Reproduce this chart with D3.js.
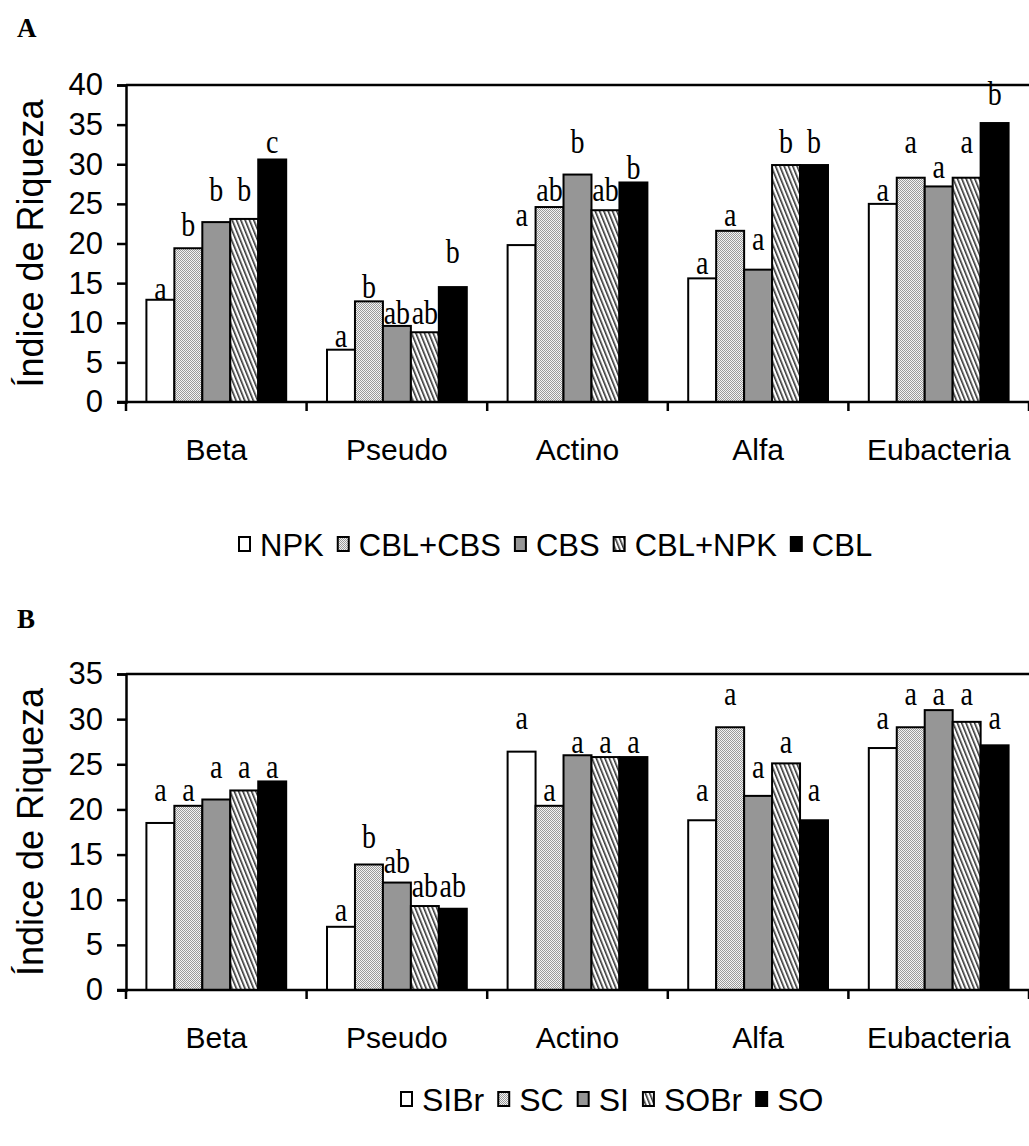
<!DOCTYPE html>
<html>
<head>
<meta charset="utf-8">
<script src="https://cdn.jsdelivr.net/npm/d3@7"></script>
<style>
  html, body { margin: 0; padding: 0; background: #fff; }
  svg { display: block; }
</style>
</head>
<body>
<svg id="chart" width="1029" height="1146"></svg>
<script>
// ---------- data ----------
const categories = ["Beta", "Pseudo", "Actino", "Alfa", "Eubacteria"];

const seriesA = ["NPK", "CBL+CBS", "CBS", "CBL+NPK", "CBL"];
const valuesA = [
  [12.9, 6.6, 19.8, 15.6, 25.0],   // NPK
  [19.4, 12.7, 24.6, 21.6, 28.3],  // CBL+CBS
  [22.7, 9.6, 28.7, 16.7, 27.2],   // CBS
  [23.1, 8.8, 24.2, 29.9, 28.3],   // CBL+NPK
  [30.6, 14.5, 27.7, 29.9, 35.2]   // CBL
];
const lettersA = [
  ["a", "a", "a", "a", "a"],
  ["b", "b", "ab", "a", "a"],
  ["b", "ab", "b", "a", "a"],
  ["b", "ab", "ab", "b", "a"],
  ["c", "b", "b", "b", "b"]
];
const letterLevelA = [
  [12.9, 6.9, 22.2, 16.2, 25.3],
  [21.0, 13.1, 25.3, 22.2, 31.4],
  [25.3, 9.9, 31.4, 19.2, 28.3],
  [25.3, 9.9, 25.3, 31.4, 31.4],
  [31.4, 17.5, 28.2, 31.4, 37.5]
];
const ticksA = [0, 5, 10, 15, 20, 25, 30, 35, 40];

const seriesB = ["SIBr", "SC", "SI", "SOBr", "SO"];
const valuesB = [
  [18.5, 7.0, 26.4, 18.8, 26.8],   // SIBr
  [20.4, 13.9, 20.4, 29.1, 29.1],  // SC
  [21.1, 11.9, 26.0, 21.5, 31.0],  // SI
  [22.1, 9.3, 25.8, 25.1, 29.7],   // SOBr
  [23.1, 9.0, 25.8, 18.8, 27.1]    // SO
];
const lettersB = [
  ["a", "a", "a", "a", "a"],
  ["a", "b", "a", "a", "a"],
  ["a", "ab", "a", "a", "a"],
  ["a", "ab", "a", "a", "a"],
  ["a", "ab", "a", "a", "a"]
];
const letterLevelB = [
  [20.9, 7.6, 28.9, 20.9, 28.9],
  [20.9, 15.7, 20.9, 31.6, 31.6],
  [23.5, 13.0, 26.2, 23.5, 31.6],
  [23.5, 10.3, 26.2, 26.2, 31.6],
  [23.5, 10.3, 26.2, 20.9, 28.9]
];
const ticksB = [0, 5, 10, 15, 20, 25, 30, 35];

const fills = ["#ffffff", "url(#dots)", "#969696", "url(#hatch)", "#000000"];

// ---------- drawing ----------
const svg = d3.select("#chart");
const defs = svg.append("defs");

const dots = defs.append("pattern").attr("id", "dots")
  .attr("patternUnits", "userSpaceOnUse").attr("width", 2).attr("height", 2);
dots.append("rect").attr("width", 2).attr("height", 2).attr("fill", "#f4f4f4");
dots.append("rect").attr("x", 0).attr("y", 0).attr("width", 1).attr("height", 1).attr("fill", "#9a9a9a");
dots.append("rect").attr("x", 1).attr("y", 1).attr("width", 1).attr("height", 1).attr("fill", "#9a9a9a");

const hatch = defs.append("pattern").attr("id", "hatch")
  .attr("patternUnits", "userSpaceOnUse").attr("width", 4).attr("height", 8)
  .attr("patternTransform", "rotate(-22)");
hatch.append("rect").attr("width", 4).attr("height", 8).attr("fill", "#ffffff");
hatch.append("rect").attr("x", 0).attr("y", 0).attr("width", 1.6).attr("height", 8).attr("fill", "#333");

const sansFont = "'Liberation Sans', Arial, sans-serif";
const serifFont = "'Liberation Serif', 'Times New Roman', serif";

function panel(opts) {
  const { top, bottom, left, right, ymax, ticks, series, values, letters, levels,
          title, titleY, legendY, legendX, legendFont } = opts;
  const g = svg.append("g");

  const y = d3.scaleLinear().domain([0, ymax]).range([bottom, top]);
  const x0 = d3.scaleBand().domain(categories).range([left, right]).paddingInner(0).paddingOuter(0);
  const x1 = d3.scaleBand().domain(series).range([0, x0.bandwidth()]).paddingInner(0).paddingOuter(0.73);

  // title
  svg.append("text").attr("x", 17).attr("y", titleY)
    .attr("font-family", serifFont).attr("font-weight", "bold").attr("font-size", 27)
    .text(title);

  // bars
  series.forEach((s, si) => {
    g.append("g").selectAll("rect").data(categories).join("rect")
      .attr("x", c => x0(c) + x1(s))
      .attr("y", (c, ci) => y(values[si][ci]))
      .attr("width", x1.bandwidth())
      .attr("height", (c, ci) => y(0) - y(values[si][ci]))
      .attr("fill", fills[si])
      .attr("stroke", "#000").attr("stroke-width", 2);
  });

  // letters
  series.forEach((s, si) => {
    g.append("g").selectAll("text").data(categories).join("text")
      .attr("transform", (c, ci) => `translate(${x0(c) + x1(s) + x1.bandwidth() / 2},${y(levels[si][ci])}) scale(1,1.2)`)
      .attr("text-anchor", "middle")
      .attr("font-family", serifFont).attr("font-size", 28)
      .text((c, ci) => letters[si][ci]);
  });

  // top frame line
  g.append("line").attr("x1", left).attr("x2", right + 5)
    .attr("y1", y(ymax)).attr("y2", y(ymax))
    .attr("stroke", "#000").attr("stroke-width", 2.5);

  // y axis
  const yAxis = d3.axisLeft(y).tickValues(ticks).tickSize(9).tickPadding(14).tickFormat(d3.format("d"));
  const ya = g.append("g").attr("transform", `translate(${left},0)`).call(yAxis);
  ya.select(".domain").attr("stroke", "#000").attr("stroke-width", 2.5);
  ya.selectAll(".tick line").attr("stroke", "#000").attr("stroke-width", 2.5);
  ya.selectAll(".tick text").attr("font-family", sansFont).attr("font-size", 31).attr("fill", "#000");

  // x axis: ticks at category boundaries
  const xa = g.append("g");
  xa.append("line").attr("x1", left - 9).attr("x2", right + 5)
    .attr("y1", y(0)).attr("y2", y(0)).attr("stroke", "#000").attr("stroke-width", 2.5);
  const bounds = categories.map(c => x0(c)).concat([right]);
  xa.selectAll("line.tk").data(bounds).join("line").attr("class", "tk")
    .attr("x1", d => d).attr("x2", d => d)
    .attr("y1", y(0)).attr("y2", y(0) + 9)
    .attr("stroke", "#000").attr("stroke-width", 2.5);
  xa.selectAll("text").data(categories).join("text")
    .attr("x", c => x0(c) + x0.bandwidth() / 2)
    .attr("y", y(0) + 58)
    .attr("text-anchor", "middle")
    .attr("font-family", sansFont).attr("font-size", 30)
    .text(c => c);

  // y title
  svg.append("text")
    .attr("transform", `translate(43,${(top + bottom) / 2}) rotate(-90)`)
    .attr("text-anchor", "middle")
    .attr("font-family", sansFont).attr("font-size", 36)
    .text("Índice de Riqueza");

  // legend
  const lg = svg.append("g");
  let cx = legendX;
  series.forEach((s, si) => {
    lg.append("rect").attr("x", cx + 1).attr("y", legendY - 19)
      .attr("width", 11).attr("height", 14)
      .attr("fill", fills[si]).attr("stroke", "#000").attr("stroke-width", 2);
    const t = lg.append("text").attr("x", cx + 22).attr("y", legendY)
      .attr("font-family", sansFont).attr("font-size", legendFont)
      .text(s);
    cx += 22 + t.node().getComputedTextLength() + 13;
  });
}

panel({ top: 85, bottom: 402, left: 126, right: 1029, ymax: 40, ticks: ticksA,
        series: seriesA, values: valuesA, letters: lettersA, levels: letterLevelA,
        title: "A", titleY: 37, legendY: 556, legendX: 238, legendFont: 31 });

panel({ top: 674, bottom: 990, left: 126, right: 1029, ymax: 35, ticks: ticksB,
        series: seriesB, values: valuesB, letters: lettersB, levels: letterLevelB,
        title: "B", titleY: 628, legendY: 1111, legendX: 400, legendFont: 32 });
</script>
</body>
</html>
